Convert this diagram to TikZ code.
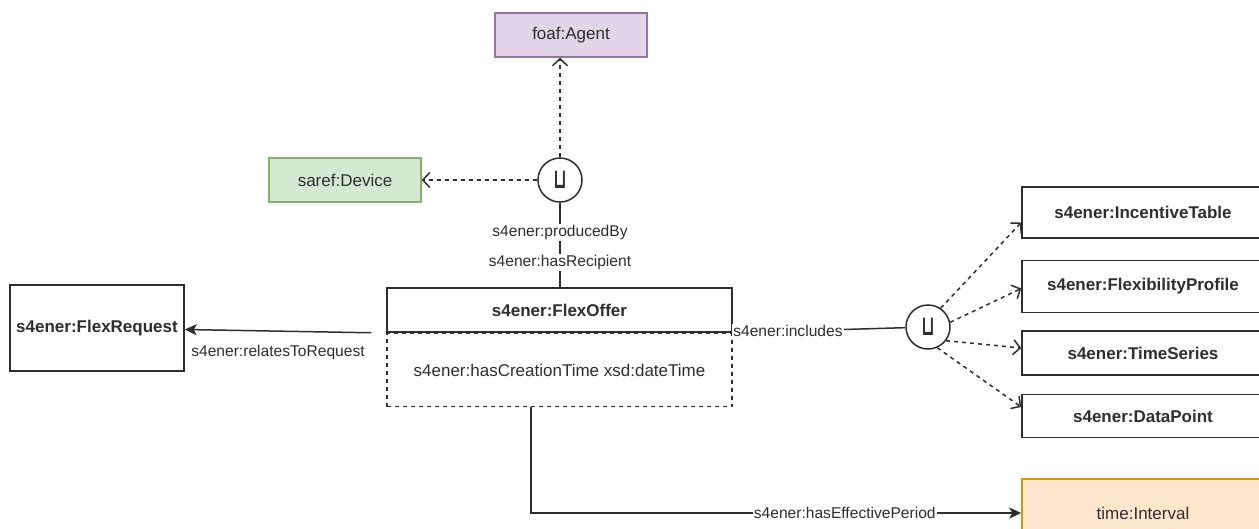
\documentclass[tikz,border=0pt]{standalone}
\usepackage{fontspec}
\setmainfont{Liberation Sans}
\newfontfamily\symfont{DejaVu Sans}
\usepackage{xcolor}
\usepackage{tikz}
\usetikzlibrary{shapes,arrows.meta,positioning,calc}

\definecolor{agentfill}{HTML}{E1D5E7}
\definecolor{agentline}{HTML}{9673A6}
\definecolor{devfill}{HTML}{D5E8D4}
\definecolor{devline}{HTML}{82B366}
\definecolor{ivfill}{HTML}{FFE6CC}
\definecolor{ivline}{HTML}{D79B00}
\definecolor{ink}{HTML}{2E2E2E}

\newcommand{\boxfont}{\fontsize{17}{20}\selectfont}
\newcommand{\lblfont}{\fontsize{15.6}{18}\selectfont}
\newcommand{\unionsym}{{\symfont\bfseries\fontsize{24}{24}\selectfont\scalebox{0.7}[1.15]{⊔}}}

\begin{document}
\begin{tikzpicture}[x=1pt, y=-1pt, color=ink, line width=1.5pt,
    cls/.style={rectangle, draw, minimum width=152pt, minimum height=44pt, inner sep=0pt, font=\boxfont},
    bcls/.style={cls, font=\boxfont\bfseries},
    unionnode/.style={circle, draw, fill=white, minimum size=44pt, inner sep=0pt},
    elbl/.style={fill=white, inner sep=1pt, font=\lblfont},
    dep/.style={dash pattern=on 4pt off 4pt, -{Straight Barb[length=7pt,width=15pt]}},
    rel/.style={-{Stealth[length=12pt,width=11pt,inset=3pt]}}]

    \useasboundingbox (0,0) rectangle (1259,528);

    \node[cls, fill=agentfill, draw=agentline] (ag) at (571,35) {foaf:Agent};
    \node[cls, fill=devfill, draw=devline] (dv) at (345,180) {saref:Device};
    \node[unionnode] (u1) at (560,180) {\unionsym};

    \node[bcls, minimum width=345pt] (fo) at (559.5,310) {s4ener:FlexOffer};
    \node[cls, dashed, dash pattern=on 4pt off 4pt, minimum width=345pt, minimum height=73pt, below=0pt of fo] (fb) {s4ener:hasCreationTime xsd:dateTime};
    \node[bcls, minimum width=174pt, minimum height=86pt] (fr) at (97,328) {s4ener:FlexRequest};

    \node[unionnode] (u2) at (928,327) {\unionsym};
    \node[bcls, minimum width=242pt, minimum height=51pt] (it) at (1143,212.5) {s4ener:IncentiveTable};
    \node[bcls, minimum width=242pt, minimum height=52pt, below=21pt of it] (fp) {s4ener:FlexibilityProfile};
    \node[bcls, minimum width=242pt, minimum height=44pt, below=17pt of fp] (ts) {s4ener:TimeSeries};
    \node[bcls, minimum width=242pt, minimum height=43pt, below=18pt of ts] (dp) {s4ener:DataPoint};
    \node[cls, fill=ivfill, draw=ivline, minimum width=242pt, minimum height=68pt, below=40pt of dp] (ti) {time:Interval};

    \coordinate (rq) at ([xshift=-15pt]fo.south west);

    \draw[dep] (u1) -- (u1 |- ag.south);
    \draw[dep] (u1) -- (dv);
    \draw (u1) -- (u1 |- fo.north)
        node[elbl, pos=0.35] {s4ener:producedBy}
        node[elbl, pos=0.71] {s4ener:hasRecipient};
    \draw[rel] (rq) -- (fr) node[elbl, midway, yshift=-21pt] {s4ener:relatesToRequest};
    \draw (fo.south east) -- (u2) node[elbl, pos=0.32] {s4ener:includes};
    \draw[dep] (u2.56) -- ([yshift=-10pt]it.west);
    \draw[dep] (u2.12) -- ([yshift=-2pt]fp.west);
    \draw[dep] (u2.-37) -- ([yshift=5pt]ts.west);
    \draw[dep] (u2.-66) -- ([yshift=9pt]dp.west);
    \draw[rel] ([xshift=-28.5pt]fb.south) |- (ti) node[elbl, pos=0.82] {s4ener:hasEffectivePeriod};

\end{tikzpicture}
\end{document}
